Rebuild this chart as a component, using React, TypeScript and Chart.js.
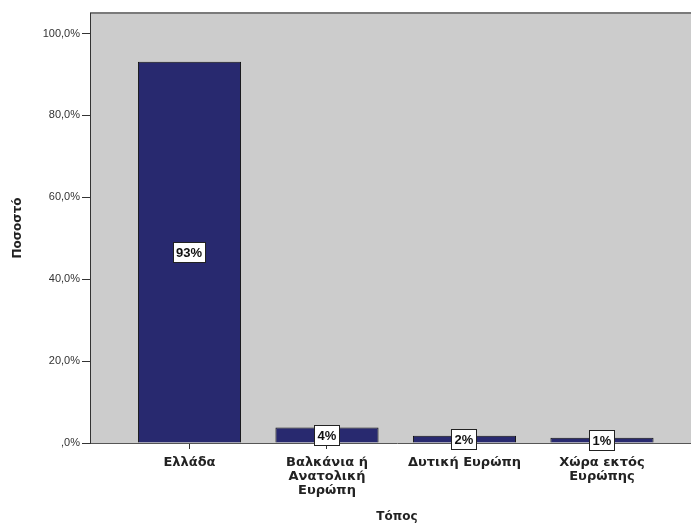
import React, { useEffect, useRef } from "react";
import { Chart, registerables } from "chart.js";

Chart.register(...registerables);

// Τόπος – share of respondents per place
const categories: string[][] = [
  ["Ελλάδα"],
  ["Βαλκάνια ή", "Ανατολική", "Ευρώπη"],
  ["Δυτική Ευρώπη"],
  ["Χώρα εκτός", "Ευρώπης"],
];
const percentages: number[] = [93.1, 3.8, 1.8, 1.3];
const yTicks: number[] = [0, 20, 40, 60, 80, 100];

const PLOT_BG = "#cccccc";
const BAR_FILL = "#28296f";

const formatTick = (v: number) =>
  v === 0 ? ",0%" : v.toFixed(1).replace(".", ",") + "%";

// Grey plot panel with a darker top edge
const panelPlugin = {
  id: "panel",
  beforeDraw(chart: any) {
    const { ctx, chartArea } = chart;
    ctx.save();
    ctx.fillStyle = "#ffffff";
    ctx.fillRect(0, 0, chart.width, chart.height);
    ctx.fillStyle = PLOT_BG;
    ctx.fillRect(
      chartArea.left,
      chartArea.top,
      chartArea.right - chartArea.left,
      chartArea.bottom - chartArea.top
    );
    ctx.strokeStyle = "#7a7a7a";
    ctx.lineWidth = 2;
    ctx.beginPath();
    ctx.moveTo(chartArea.left, chartArea.top);
    ctx.lineTo(chartArea.right, chartArea.top);
    ctx.stroke();
    ctx.restore();
  },
};

// Boxed percentage labels at the middle of each bar
const valueLabelPlugin = {
  id: "valueLabels",
  afterDatasetsDraw(chart: any) {
    const { ctx } = chart;
    const meta = chart.getDatasetMeta(0);
    ctx.save();
    ctx.font = "bold 13px 'Liberation Sans', Arial, sans-serif";
    ctx.textAlign = "center";
    ctx.textBaseline = "middle";
    meta.data.forEach((el: any, i: number) => {
      const text = Math.round(percentages[i]) + "%";
      const tw = ctx.measureText(text).width;
      const w = Math.round(tw + 6);
      const h = 20;
      const cx = Math.round(el.x);
      const cy = Math.round((el.y + el.base) / 2);
      const x0 = cx - Math.round(w / 2) + 0.5;
      const y0 = cy - Math.round(h / 2) + 0.5;
      ctx.fillStyle = "#ffffff";
      ctx.fillRect(x0, y0, w, h);
      ctx.strokeStyle = "#222222";
      ctx.lineWidth = 1;
      ctx.strokeRect(x0, y0, w, h);
      ctx.fillStyle = "#111111";
      ctx.fillText(text, cx, cy + 1);
    });
    ctx.restore();
  },
};

export default function App() {
  const canvasRef = useRef<HTMLCanvasElement | null>(null);

  useEffect(() => {
    if (!canvasRef.current) return;
    const chart = new Chart(canvasRef.current, {
      type: "bar",
      data: {
        datasets: [
          {
            data: percentages.map((v, i) => ({ x: i, y: v })),
            backgroundColor: BAR_FILL,
            borderColor: "#101010",
            borderWidth: 1,
            borderSkipped: "bottom",
            categoryPercentage: 1,
            barPercentage: 0.75,
          },
        ],
      },
      options: {
        responsive: false,
        devicePixelRatio: 1,
        animation: false,
        events: [],
        layout: { padding: { top: 13, left: 0, right: 0, bottom: 0 } },
        plugins: {
          legend: { display: false },
          tooltip: { enabled: false },
        },
        scales: {
          x: {
            type: "linear",
            offset: false,
            min: -0.7236,
            max: 3.742,
            afterBuildTicks(scale: any) {
              scale.ticks = categories.map((_, i) => ({ value: i }));
            },
            afterFit(scale: any) {
              scale.height = 80;
            },
            grid: {
              offset: false,
              drawOnChartArea: false,
              drawTicks: true,
              tickLength: 6,
              color: "#333333",
            },
            border: { display: true, color: "#555555", width: 1 },
            ticks: {
              autoSkip: false,
              maxRotation: 0,
              padding: 7,
              color: "#222222",
              font: {
                family: "'DejaVu Sans', sans-serif",
                size: 13,
                weight: "bold",
                lineHeight: 1.05,
              },
              callback: (v: any) => categories[v as number] ?? "",
            },
            title: {
              display: true,
              text: "Τόπος",
              color: "#222222",
              font: {
                family: "'DejaVu Sans', sans-serif",
                size: 12,
                weight: "bold",
                lineHeight: 1,
              },
              padding: { top: 0, bottom: 0 },
            },
          },
          y: {
            min: 0,
            max: 105,
            afterBuildTicks(scale: any) {
              scale.ticks = yTicks.map((v) => ({ value: v }));
            },
            afterFit(scale: any) {
              scale.width = 90;
            },
            grid: {
              drawOnChartArea: false,
              drawTicks: true,
              tickLength: 8,
              color: "#333333",
            },
            border: { display: true, color: "#333333", width: 1 },
            ticks: {
              padding: 2,
              color: "#333333",
              font: {
                family: "'Liberation Sans', Arial, sans-serif",
                size: 11,
              },
              callback: (v: any) => formatTick(v as number),
            },
            title: {
              display: true,
              text: "Ποσοστό",
              color: "#222222",
              font: {
                family: "'DejaVu Sans', sans-serif",
                size: 12,
                weight: "bold",
                lineHeight: 1.2,
              },
              padding: { top: 11, bottom: 0 },
            },
          },
        },
      },
      plugins: [panelPlugin, valueLabelPlugin],
    });
    return () => chart.destroy();
  }, []);

  return (
    <div
      style={{
        position: "absolute",
        left: 0,
        top: 0,
        width: 691,
        height: 523,
        overflow: "hidden",
        background: "#ffffff",
      }}
    >
      <canvas
        ref={canvasRef}
        width={704}
        height={523}
        style={{ display: "block", width: 704, height: 523 }}
      />
    </div>
  );
}
